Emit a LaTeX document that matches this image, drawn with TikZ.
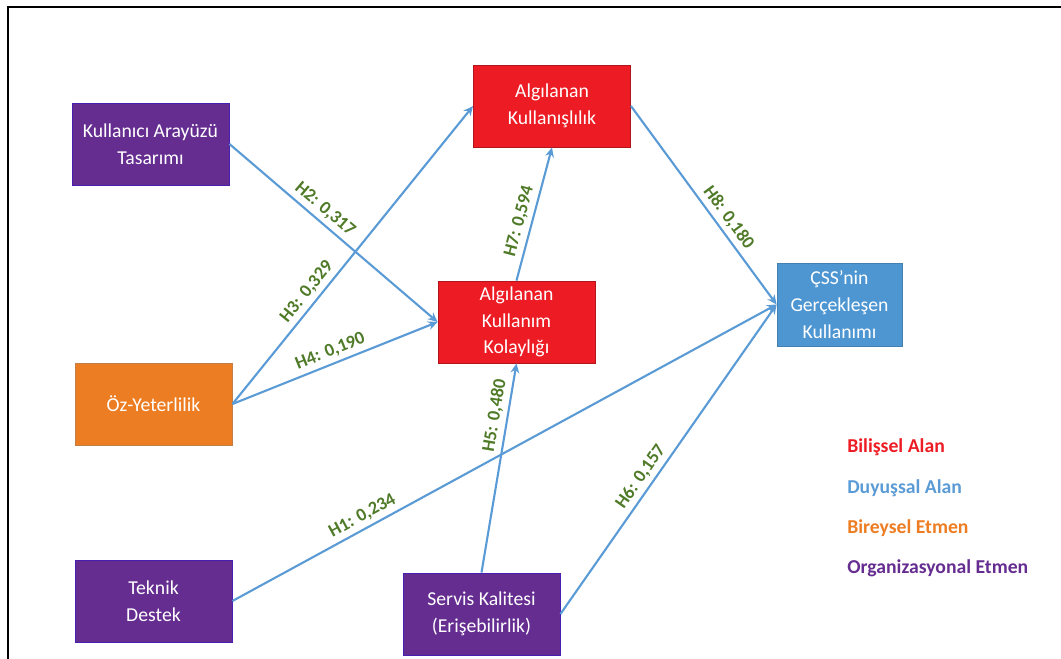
\documentclass[tikz,border=0pt]{standalone}
\usepackage{fontspec}
\setmainfont{Carlito}
\usepackage{tikz}
\usetikzlibrary{arrows.meta, positioning}
\definecolor{orgpurple}{RGB}{102,45,145}
\definecolor{cogred}{RGB}{237,28,36}
\definecolor{indorange}{RGB}{237,125,34}
\definecolor{affblue}{RGB}{78,150,210}
\definecolor{linkblue}{RGB}{91,155,213}
\definecolor{hypgreen}{RGB}{79,122,40}
\tikzset{
  factor/.style  = {draw, line width=0.6pt, minimum width=3.925cm,
                    minimum height=2.05cm, align=center, text=white,
                    font=\fontsize{14}{19}\selectfont, inner sep=2pt},
  orgbox/.style  = {factor, fill=orgpurple, draw=orgpurple!70!blue},
  cogbox/.style  = {factor, fill=cogred, draw=cogred!75!black},
  indbox/.style  = {factor, fill=indorange, draw=indorange!60!gray},
  affbox/.style  = {factor, fill=affblue, draw=affblue!85!black,
                    minimum width=3.125cm, minimum height=2.075cm},
  path/.style    = {-{Stealth[length=2.4mm, width=2.2mm]}, line width=1.5pt, linkblue},
  hyp/.style     = {sloped, above, font=\fontsize{13}{13}\selectfont\bfseries,
                    text=hypgreen, inner sep=3pt},
  legend/.style  = {anchor=west, font=\fontsize{14}{14}\selectfont\bfseries, inner sep=0pt},
}

\begin{document}
\begin{tikzpicture}[x=0.025cm, y=-0.025cm]
    \useasboundingbox (0,0) rectangle (1061,659);
    \draw[line width=1.5pt] (8,7) rectangle (1075,675);
    % --- antecedents --------------------------------------------------
    \node[orgbox] (kat)  at (150.5,144) {Kullanıcı Arayüzü\\Tasarımı};
    \node[indbox] (oz)   at (153.5,404) {Öz-Yeterlilik};
    \node[orgbox] (td)   at (153.5,601) {Teknik\\Destek};
    \node[orgbox] (sk)   at (481.5,614) {Servis Kalitesi\\(Erişebilirlik)};
    % --- perceptions --------------------------------------------------
    \node[cogbox] (ak)   at (552,106)   {Algılanan\\Kullanışlılık};
    \node[cogbox] (akk)  at (516.5,322) {Algılanan\\Kullanım\\Kolaylığı};
    % --- outcome ------------------------------------------------------
    \node[affbox] (css)  at (839.5,304.5) {ÇSS’nin\\Gerçekleşen\\Kullanımı};
    % --- edges --------------------------------------------------------
    \draw[path] (td.east)  -- node[hyp,pos=0.25] {H1: 0,234} (css.west);
    \draw[path] (kat.east) -- node[hyp,pos=0.42] {H2: 0,317} (akk.west);
    \draw[path] (oz.east)  -- node[hyp,pos=0.35] {H3: 0,329} (ak.west);
    \draw[path] (oz.east)  -- node[hyp,pos=0.5] {H4: 0,190} (akk.west);
    \draw[path] (sk.north) -- node[hyp,pos=0.74] {H5: 0,480} (akk.south);
    \draw[path] (sk.east)  -- node[hyp,pos=0.42] {H6: 0,157} (css.west);
    \draw[path] (akk.north) -- node[hyp,pos=0.42] {H7: 0,594} (ak.south);
    \draw[path] (ak.east)  -- node[hyp,pos=0.6] {H8: 0,180} (css.west);
    % --- legend -------------------------------------------------------
    \node[legend, text=cogred]    (lcog) at (847,447) {Bilişsel Alan};
    \node[legend, text=linkblue]  (laff) at (847,488) {Duyuşsal Alan};
    \node[legend, text=indorange] (lind) at (847,528) {Bireysel Etmen};
    \node[legend, text=orgpurple] (lorg) at (847,568) {Organizasyonal Etmen};
\end{tikzpicture}
\end{document}
